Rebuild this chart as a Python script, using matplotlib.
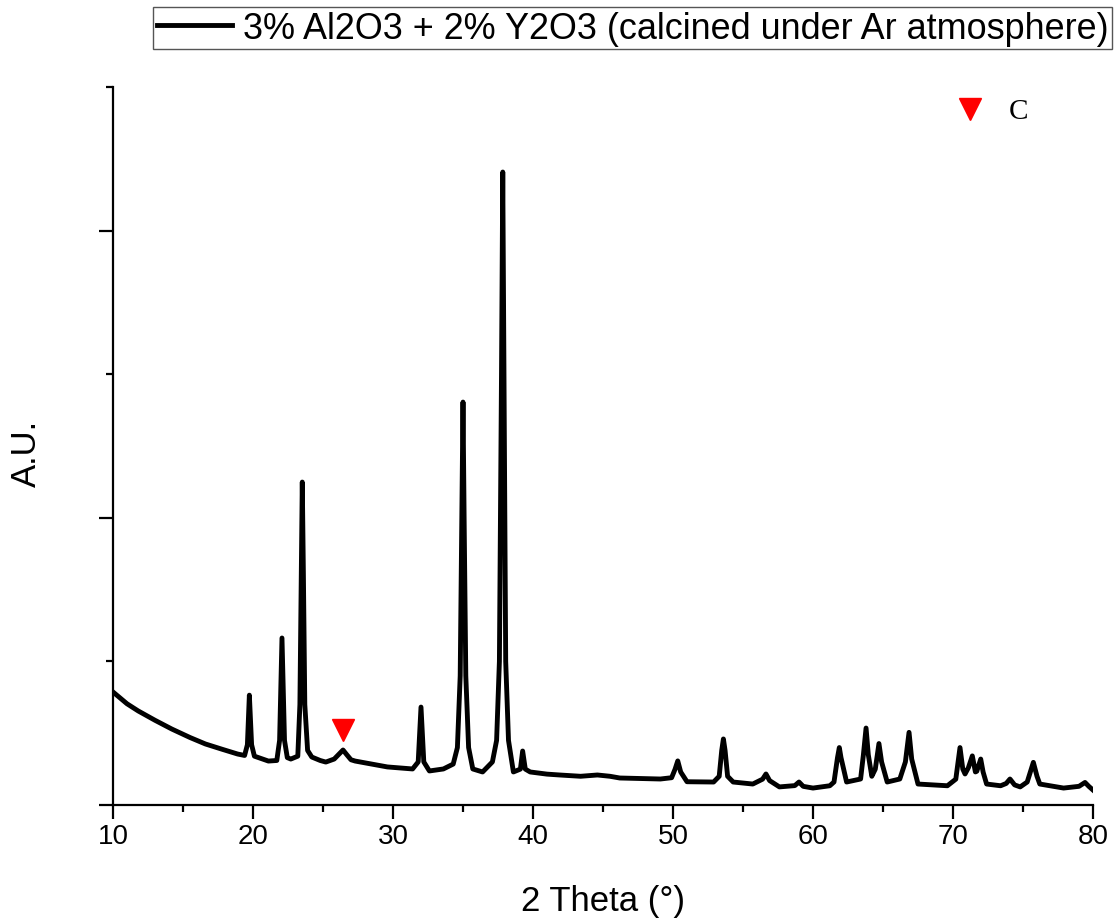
import matplotlib
matplotlib.use("Agg")
import matplotlib.pyplot as plt
from matplotlib.ticker import FixedLocator, NullFormatter

# XRD pattern, 2-theta (deg) vs intensity (a.u.)
two_theta = [
    10.0, 11.0, 11.8, 13.0, 14.2, 15.5, 16.6, 17.8, 18.9, 19.4, 19.6, 19.74, 19.9, 20.1,
    20.4, 21.1, 21.7, 21.9, 22.07, 22.25, 22.45, 22.7, 23.2, 23.35, 23.45, 23.52, 23.6,
    23.7, 23.9, 24.2, 24.8, 25.2, 25.8, 26.2, 26.43, 26.7, 27.0, 27.3, 28.5, 29.6, 30.5,
    31.4, 31.8, 32.0, 32.2, 32.6, 33.6, 34.3, 34.6, 34.8, 34.92, 35.0, 35.08, 35.2, 35.4,
    35.7, 36.4, 37.1, 37.4, 37.6, 37.75, 37.84, 37.93, 38.05, 38.25, 38.6, 39.1, 39.26,
    39.45, 39.8, 41.0, 41.9, 43.4, 44.6, 45.5, 46.2, 48.0, 49.1, 49.9, 50.15, 50.34, 50.55,
    51.0, 52.9, 53.3, 53.48, 53.6, 53.72, 53.9, 54.3, 55.7, 56.4, 56.64, 56.9, 57.6, 58.7,
    59.0, 59.3, 60.0, 61.2, 61.5, 61.75, 61.88, 62.0, 62.4, 63.4, 63.6, 63.79, 63.95, 64.2,
    64.45, 64.71, 64.9, 65.3, 66.2, 66.6, 66.86, 67.05, 67.5, 68.5, 69.6, 70.2, 70.5, 70.7,
    70.86, 71.1, 71.38, 71.6, 71.7, 71.98, 72.15, 72.4, 73.4, 73.8, 74.07, 74.4, 74.8, 75.3,
    75.74, 76.0, 76.2, 77.9, 79.0, 79.43, 79.7, 80.0,
]
intensity = [
    787, 705, 655, 590, 529, 470, 425, 388, 355, 345, 420, 765, 420, 340,
    330, 306, 310, 450, 1163, 450, 330, 320, 340, 700, 1600, 2249, 1600,
    700, 380, 334, 310, 299, 320, 360, 383, 350, 315, 306, 285, 265, 258,
    251, 300, 682, 300, 237, 251, 285, 400, 900, 2000, 2806, 2000, 900, 400,
    251, 230, 300, 450, 1000, 3000, 4408, 3000, 1000, 450, 230, 250, 376,
    250, 230, 215, 209, 200, 209, 200, 188, 184, 181, 190, 250, 307, 230,
    162, 160, 200, 380, 460, 380, 200, 160, 146, 180, 216, 170, 126, 135,
    160, 130, 118, 134, 160, 330, 400, 330, 160, 181, 350, 536, 350, 200,
    250, 428, 300, 160, 181, 300, 506, 320, 146, 140, 134, 180, 400, 250,
    216, 260, 342, 230, 235, 320, 230, 146, 134, 150, 181, 140, 126, 160,
    297, 200, 146, 118, 130, 157, 130, 104,
]

# phase marker (C) position
c_peak_theta = [26.46]
c_peak_level = [522]

series_label = "3% Al2O3 + 2% Y2O3 (calcined under Ar atmosphere)"
x_major = [10, 20, 30, 40, 50, 60, 70, 80]
x_minor = [15, 25, 35, 45, 55, 65, 75]
y_major = [0, 2000, 4000]
y_minor = [1000, 3000, 5000]

sans = "Liberation Sans"
serif = "Liberation Serif"

fig = plt.figure(figsize=(11.19, 9.2), dpi=100)
ax = fig.add_axes([113 / 1119, 1 - 806 / 920, 980 / 1119, 718 / 920])

line, = ax.plot(two_theta, intensity, color="black", lw=3.5,
                solid_joinstyle="round", label=series_label)
ax.plot(c_peak_theta, c_peak_level, linestyle="none", marker="v",
        color="red", markersize=16)

ax.set_xlim(10, 80)
ax.set_ylim(0, 5000)

for side in ("top", "right"):
    ax.spines[side].set_visible(False)
for side in ("left", "bottom"):
    ax.spines[side].set_linewidth(1.6)

ax.xaxis.set_major_locator(FixedLocator(x_major))
ax.xaxis.set_minor_locator(FixedLocator(x_minor))
ax.yaxis.set_major_locator(FixedLocator(y_major))
ax.yaxis.set_minor_locator(FixedLocator(y_minor))
ax.yaxis.set_major_formatter(NullFormatter())
ax.tick_params(axis="both", which="major", direction="out", length=10, width=1.6)
ax.tick_params(axis="both", which="minor", direction="out", length=5, width=1.6)
ax.tick_params(axis="x", which="major", labelsize=20, pad=3)
for lab in ax.get_xticklabels():
    lab.set_fontfamily(sans)

fig.text(603 / 1119, 1 - 902 / 920, "2 Theta (°)", ha="center", va="center",
         fontsize=25, family=sans)
fig.text(26 / 1119, 1 - 453 / 920, "A.U.", ha="center", va="center",
         rotation=90, fontsize=25, family=sans)

# phase key in the upper right
ax.plot([0.874], [0.969], transform=ax.transAxes, linestyle="none", marker="v",
        color="red", markersize=16, clip_on=False)
ax.text(0.914, 0.966, "C", transform=ax.transAxes, ha="left", va="center",
        fontsize=21, family=serif)

leg = fig.legend(handles=[line], loc="upper left",
                 bbox_to_anchor=(153 / 1119, 1 - 8 / 920), borderaxespad=0,
                 prop={"family": sans, "size": 25.9}, borderpad=0.1,
                 handlelength=2.1, handletextpad=0.3, fancybox=False,
                 framealpha=1)
leg.get_frame().set_edgecolor("#555555")
leg.get_frame().set_linewidth(1.0)
leg.get_lines()[0].set_linewidth(3.5)

fig.savefig("out.png", dpi=100)
